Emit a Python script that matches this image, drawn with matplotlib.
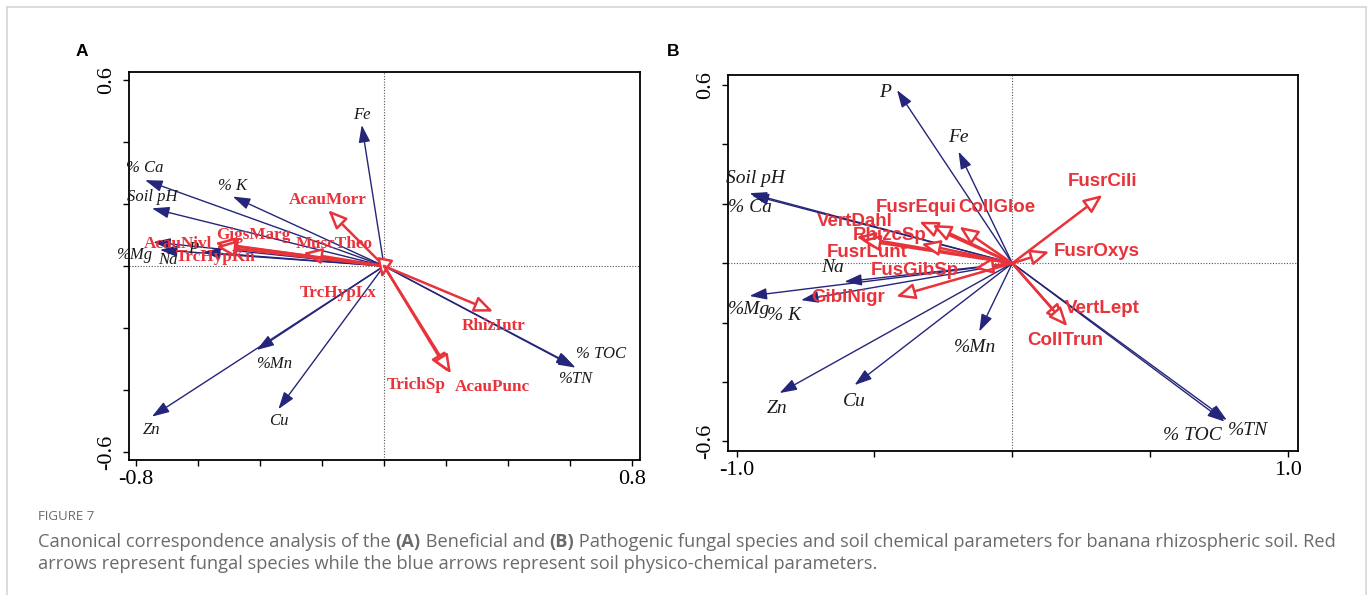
import matplotlib
matplotlib.use('Agg')
import matplotlib.pyplot as plt
from matplotlib.lines import Line2D
from matplotlib.text import Annotation

# ---------------- data (CCA biplot scores) ----------------
# Panel A: beneficial fungi
a_env_names = ['Fe', '% Ca', '% K', 'Soil pH', '%Mg', 'Na', 'P', '%Mn', 'Zn', 'Cu', '% TOC', '%TN']
a_env_x = [-0.072, -0.771, -0.488, -0.749, -0.745, -0.723, -0.584, -0.411, -0.749, -0.341, 0.612, 0.618]
a_env_y = [0.455, 0.277, 0.224, 0.186, 0.077, 0.052, 0.045, -0.271, -0.486, -0.462, -0.322, -0.328]

a_sp_names = ['AcauMorr', 'GigsMarg', 'MuscTheo', 'AcauNivl', 'TrcHypKn', 'TrcHypLx', 'RhizIntr', 'TrichSp', 'AcauPunc']
a_sp_x = [-0.180, -0.535, -0.261, -0.545, -0.542, -0.0074, 0.352, 0.208, 0.216]
a_sp_y = [0.180, 0.071, 0.042, 0.074, 0.063, -0.039, -0.147, -0.343, -0.347]

# Panel B: pathogenic fungi
b_env_names = ['P', 'Fe', 'Soil pH', '% Ca', 'Na', '%Mg', '% K', '%Mn', 'Zn', 'Cu', '% TOC', '%TN']
b_env_x = [-0.418, -0.195, -0.953, -0.946, -0.609, -0.953, -0.766, -0.120, -0.844, -0.572, 0.770, 0.778]
b_env_y = [0.583, 0.376, 0.236, 0.230, -0.062, -0.110, -0.124, -0.230, -0.437, -0.410, -0.533, -0.528]

b_sp_names = ['FusrCili', 'FusrOxys', 'VertLept', 'CollTrun', 'FusrEqui', '', 'CollGloe',
              'VertDahl', 'FusrLunt', 'RhizcSp', 'FusGibSp', 'GiblNigr']
b_sp_x = [0.327, 0.134, 0.190, 0.200, -0.337, -0.290, -0.192, -0.565, -0.547, -0.330, -0.138, -0.421]
b_sp_y = [0.230, 0.039, -0.200, -0.212, 0.140, 0.129, 0.123, 0.089, 0.078, 0.065, -0.017, -0.112]

# ---------------- layout: label offsets from arrow tips (pixels, y up) ----------------
a_env_off = {'Fe': (0, 10), '% Ca': (0, 12), '% K': (0, 11), 'Soil pH': (0, 11), '%Mg': (-19, -13),
             'Na': (8, -10), 'P': (-10, 3), '%Mn': (17, -14), 'Zn': (0, -13), 'Cu': (0, -12),
             '% TOC': (27, 12), '%TN': (0, -11)}
a_sp_off = {'AcauMorr': (0, 10), 'GigsMarg': (35, 9), 'MuscTheo': (31, 9), 'AcauNivl': (-37, -1),
            'TrcHypKn': (0, -11), 'TrcHypLx': (-44, -15), 'RhizIntr': (0, -14),
            'TrichSp': (-32, -13), 'AcauPunc': (41, -13)}
b_env_off = {'P': (-12, -2), 'Fe': (0, 14), 'Soil pH': (6, 15), '% Ca': (-2, -13), 'Na': (-12, 14),
             '%Mg': (0, -14), '% K': (-17, -15), '%Mn': (-4, -16), 'Zn': (-2, -15), 'Cu': (0, -16),
             '% TOC': (-32, -14), '%TN': (21, -10)}
b_sp_off = {'FusrCili': (0, 13), 'FusrOxys': (47, 0), 'VertLept': (38, 14), 'CollTrun': (-2, -14),
            'FusrEqui': (-3, 14), '': (0, 0), 'CollGloe': (37, 19), 'VertDahl': (-2, 15),
            'FusrLunt': (6, -12), 'RhizcSp': (-32, 8), 'FusGibSp': (-59, -2), 'GiblNigr': (-48, -1)}

BLUE = '#25257a'
RED = '#e8333b'
PX = 0.72  # points per pixel at dpi 100

W, H = 1370, 595
fig = plt.figure(figsize=(W / 100, H / 100), dpi=100)


def add_axes(left, top, right, bottom):
    return fig.add_axes([left / W, 1 - bottom / H, (right - left) / W, (bottom - top) / H])


def draw_arrow(ax, x, y, ec, fc, lw, style, ms):
    ax.annotate('', xy=(x, y), xytext=(0, 0), xycoords='data', textcoords='data',
                arrowprops=dict(arrowstyle=style, ec=ec, fc=fc, lw=lw,
                                shrinkA=0, shrinkB=0, mutation_scale=ms))


def draw_panel(ax, env_names, env_x, env_y, env_off, env_fs,
               sp_names, sp_x, sp_y, sp_off, sp_font, sp_fs):
    ax.axhline(0, color='#555555', lw=0.8, ls=(0, (1, 1.5)), zorder=0)
    ax.axvline(0, color='#555555', lw=0.8, ls=(0, (1, 1.5)), zorder=0)
    for n, x, y in zip(env_names, env_x, env_y):
        draw_arrow(ax, x, y, BLUE, BLUE, 1.0, '-|>,head_length=0.75,head_width=0.25', 14)
        dx, dy = env_off[n]
        ax.annotate(n, xy=(x, y), xytext=(dx * PX, dy * PX), textcoords='offset points',
                    ha='center', va='center', fontsize=env_fs, style='italic',
                    family='Liberation Serif', color='#1a1a1a')
    for n, x, y in zip(sp_names, sp_x, sp_y):
        draw_arrow(ax, x, y, RED, 'white', 1.8, '-|>,head_length=0.75,head_width=0.32', 15)
    for n, x, y in zip(sp_names, sp_x, sp_y):
        if not n:
            continue
        dx, dy = sp_off[n]
        ax.annotate(n, xy=(x, y), xytext=(dx * PX, dy * PX), textcoords='offset points',
                    ha='center', va='center', fontsize=sp_fs, fontweight='bold',
                    family=sp_font, color=RED)
    for s in ax.spines.values():
        s.set_linewidth(1.3)
    ax.tick_params(direction='out', length=4, width=1, labelsize=16, pad=3)
    ax.tick_params(axis='y', pad=5)
    for lab in ax.get_xticklabels() + ax.get_yticklabels():
        lab.set_family('Liberation Serif')


# ---------------- Panel A ----------------
axA = add_axes(129, 72, 640, 460)
axA.set_xlim(-0.823, 0.826)
axA.set_ylim(-0.626, 0.626)
xt = [-0.8, -0.6, -0.4, -0.2, 0.0, 0.2, 0.4, 0.6, 0.8]
yt = [-0.6, -0.4, -0.2, 0.0, 0.2, 0.4, 0.6]
axA.set_xticks(xt)
axA.set_xticklabels(['-0.8', '', '', '', '', '', '', '', '0.8'])
axA.set_yticks(yt)
axA.set_yticklabels(['-0.6', '', '', '', '', '', '0.6'], rotation=90, va='center')
draw_panel(axA, a_env_names, a_env_x, a_env_y, a_env_off, 12,
           a_sp_names, a_sp_x, a_sp_y, a_sp_off, 'Liberation Serif', 12.3)

# ---------------- Panel B ----------------
axB = add_axes(728, 75, 1298, 451)
axB.set_xlim(-1.031, 1.036)
axB.set_ylim(-0.632, 0.634)
axB.set_xticks([-1.0, -0.5, 0.0, 0.5, 1.0])
axB.set_xticklabels(['-1.0', '', '', '', '1.0'])
axB.set_yticks(yt)
axB.set_yticklabels(['-0.6', '', '', '', '', '', '0.6'], rotation=90, va='center')
draw_panel(axB, b_env_names, b_env_x, b_env_y, b_env_off, 14,
           b_sp_names, b_sp_x, b_sp_y, b_sp_off, 'Liberation Sans', 13.5)

# ---------------- panel letters ----------------
fig.text(82 / W, 1 - 52 / H, 'A', fontsize=12.5, fontweight='bold', family='Liberation Sans',
         ha='center', va='center')
fig.text(673 / W, 1 - 52 / H, 'B', fontsize=12.5, fontweight='bold', family='Liberation Sans',
         ha='center', va='center')

# ---------------- frame ----------------
fx0, fx1, fy0 = 7 / W, 1366 / W, 1 - 7 / H
for xs, ys in [([fx0, fx1], [fy0, fy0]), ([fx0, fx0], [0, fy0]), ([fx1, fx1], [0, fy0])]:
    fig.add_artist(Line2D(xs, ys, transform=fig.transFigure, color='#d6d6d6', lw=1.2))

# ---------------- caption ----------------
CAP = '#6a6a6a'
fig.text(38 / W, 1 - 517 / H, 'FIGURE 7', fontsize=9.5, color=CAP, family='Open Sans',
         ha='left', va='center')

CAP_FS = 13.15


def chain(parts, x, y):
    t = fig.text(x, y, parts[0][0], fontsize=CAP_FS, color=CAP, family='Open Sans',
                 fontweight=parts[0][1], ha='left', va='baseline')
    for s, w in parts[1:]:
        a = Annotation(s, xy=(1, 0), xycoords=t, ha='left', va='bottom', fontsize=CAP_FS,
                       color=CAP, family='Open Sans', fontweight=w)
        fig.add_artist(a)
        t = a


chain([('Canonical correspondence analysis of the ', 'normal'), ('(A)', 'bold'),
       (' Beneficial and ', 'normal'), ('(B)', 'bold'),
       (' Pathogenic fungal species and soil chemical parameters for banana rhizospheric soil. Red', 'normal')],
      38 / W, 1 - 547 / H)
chain([('arrows represent fungal species while the blue arrows represent soil physico-chemical parameters.', 'normal')],
      38 / W, 1 - 569 / H)

fig.savefig('out.png', dpi=100)
